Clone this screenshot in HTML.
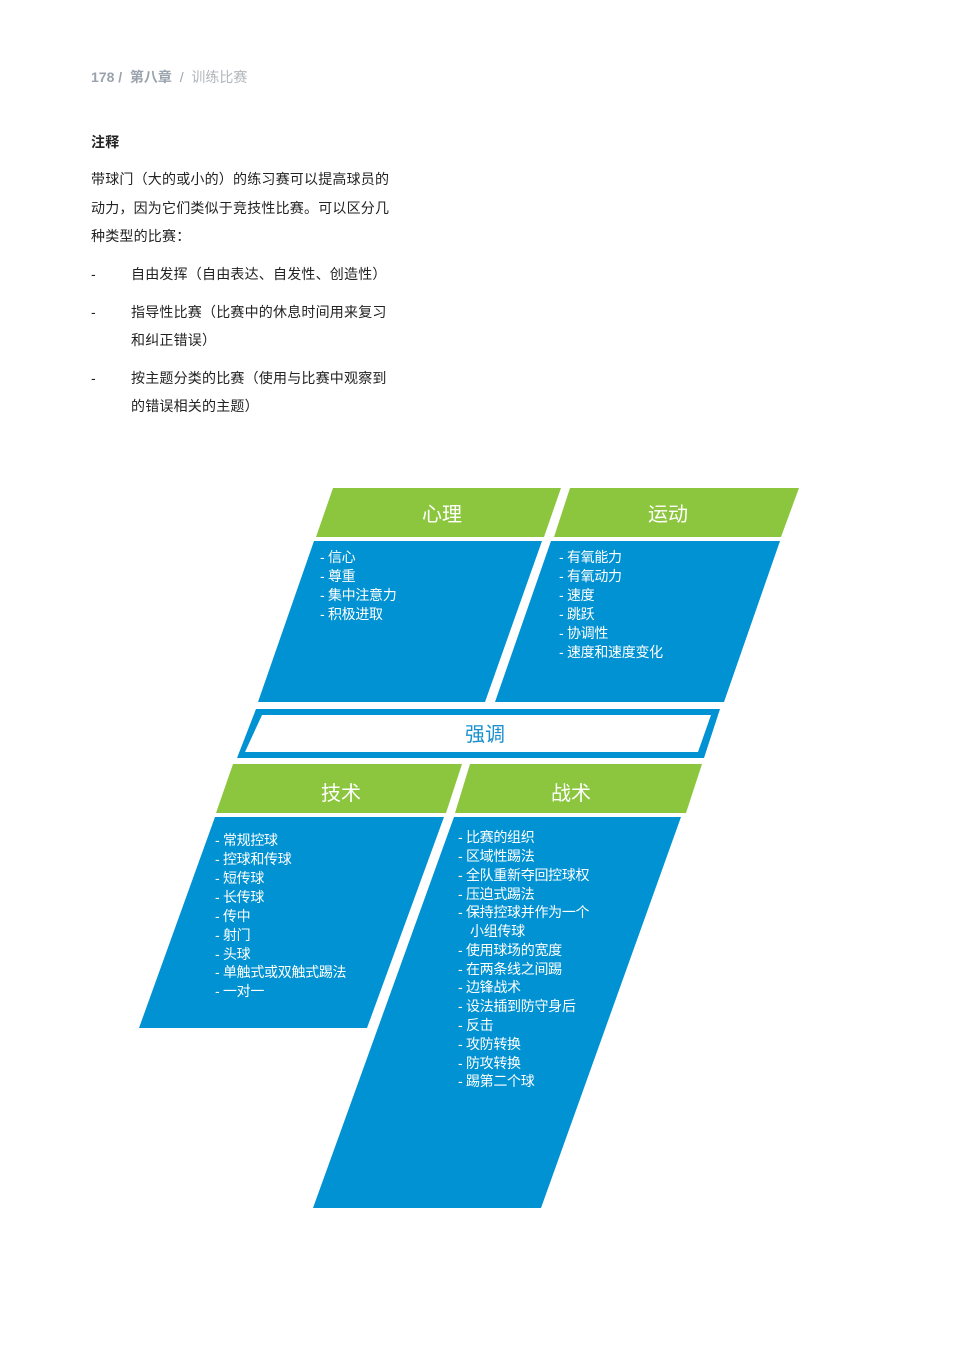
<!DOCTYPE html>
<html><head><meta charset="utf-8"><style>
html,body{margin:0;padding:0;background:#fff;}
body{width:959px;height:1356px;position:relative;overflow:hidden;font-family:"Liberation Sans","Noto Sans CJK SC",sans-serif;color:#222;}
.t{position:absolute;white-space:nowrap;font-size:14px;line-height:14px;letter-spacing:0.2px;}
</style></head><body>
<div class="t" style="left:91px;top:70px;color:#9aa3ad;font-size:14px;letter-spacing:0"><b>178 /</b>&nbsp; <b>第八章</b> &nbsp;/&nbsp; <span style="color:#b0b6bc">训练比赛</span></div>
<div class="t" style="left:91px;top:135px;font-weight:bold;">注释</div>
<div class="t" style="left:91px;top:172px;">带球门（大的或小的）的练习赛可以提高球员的</div>
<div class="t" style="left:91px;top:201px;">动力，因为它们类似于竞技性比赛。可以区分几</div>
<div class="t" style="left:91px;top:229px;">种类型的比赛：</div>
<div class="t" style="left:91px;top:267px;">-</div><div class="t" style="left:131px;top:267px;">自由发挥（自由表达、自发性、创造性）</div>
<div class="t" style="left:91px;top:305px;">-</div><div class="t" style="left:131px;top:305px;">指导性比赛（比赛中的休息时间用来复习</div>
<div class="t" style="left:131px;top:333px;">和纠正错误）</div>
<div class="t" style="left:91px;top:371px;">-</div><div class="t" style="left:131px;top:371px;">按主题分类的比赛（使用与比赛中观察到</div>
<div class="t" style="left:131px;top:399px;">的错误相关的主题）</div>

<svg width="959" height="1356" style="position:absolute;left:0;top:0" font-family="Liberation Sans, Noto Sans CJK SC, sans-serif">
<g fill="#8cc63f">
<polygon points="333,488 561,488 544,537 316,537"/>
<polygon points="570,488 799,488 781,537 554,537"/>
<polygon points="233,764 462,764 446,813 216,813"/>
<polygon points="470,764 702,764 686,813 455,813"/>
</g>
<g fill="#0092d2">
<polygon points="314,541 542,541 485,702 258,702"/>
<polygon points="551,541 780,541 724,702 495,702"/>
<polygon points="256,709 720,709 704,758 237,758"/>
<polygon points="215,817 444,817 367,1028 139,1028"/>
<polygon points="454,817 681,817 541,1208 313,1208"/>
</g>
<polygon points="262,715 711,715 698,752 245,752" fill="#fff"/>
<g fill="#fff" font-size="20" text-anchor="middle">
<text x="442" y="521">心理</text>
<text x="668" y="521">运动</text>
<text x="341" y="800">技术</text>
<text x="571" y="800">战术</text>
</g>
<text x="485" y="741" font-size="20" fill="#1a8fd0" text-anchor="middle">强调</text>
<g fill="#fff" font-size="14" letter-spacing="-0.3">
<text x="320" y="562">-  信心</text>
<text x="320" y="581">-  尊重</text>
<text x="320" y="600">-  集中注意力</text>
<text x="320" y="619">-  积极进取</text>
<text x="559" y="562">-  有氧能力</text>
<text x="559" y="581">-  有氧动力</text>
<text x="559" y="600">-  速度</text>
<text x="559" y="619">-  跳跃</text>
<text x="559" y="638">-  协调性</text>
<text x="559" y="657">-  速度和速度变化</text>
<text x="215" y="845">-  常规控球</text>
<text x="215" y="864">-  控球和传球</text>
<text x="215" y="883">-  短传球</text>
<text x="215" y="902">-  长传球</text>
<text x="215" y="921">-  传中</text>
<text x="215" y="940">-  射门</text>
<text x="215" y="959">-  头球</text>
<text x="215" y="977">-  单触式或双触式踢法</text>
<text x="215" y="996">-   一对一</text>
<text x="458" y="842">-  比赛的组织</text>
<text x="458" y="861">-  区域性踢法</text>
<text x="458" y="880">-  全队重新夺回控球权</text>
<text x="458" y="899">-  压迫式踢法</text>
<text x="458" y="917">-  保持控球并作为一个</text>
<text x="470" y="936">小组传球</text>
<text x="458" y="955">-  使用球场的宽度</text>
<text x="458" y="974">-  在两条线之间踢</text>
<text x="458" y="992">-  边锋战术</text>
<text x="458" y="1011">-  设法插到防守身后</text>
<text x="458" y="1030">-  反击</text>
<text x="458" y="1049">-  攻防转换</text>
<text x="458" y="1068">-  防攻转换</text>
<text x="458" y="1086">-  踢第二个球</text>
</g>
</svg>
</body></html>
